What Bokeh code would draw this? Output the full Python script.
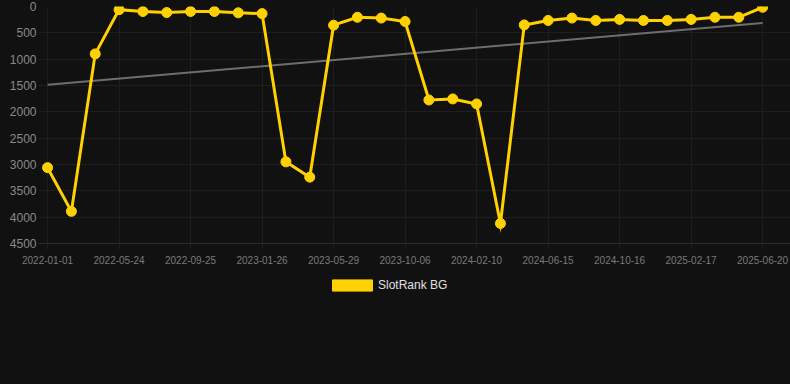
import numpy as np
from bokeh.plotting import figure
from bokeh.layouts import column
from bokeh.models import (Range1d, FixedTicker, Legend, LegendItem, ColumnDataSource)
from bokeh.embed import file_html
from bokeh.resources import INLINE

# ---- data ----
tick_labels = ["2022-01-01", "2022-05-24", "2022-09-25", "2023-01-26", "2023-05-29",
               "2023-10-06", "2024-02-10", "2024-06-15", "2024-10-16", "2025-02-17",
               "2025-06-20"]
rank_values = [3060, 3890, 900, 60, 95, 115, 95, 95, 120, 135,
               2950, 3240, 355, 205, 220, 285, 1775, 1755, 1850, 4120,
               350, 265, 220, 265, 245, 265, 265, 245, 205, 205, 15]
series_name = "SlotRank BG"
y_ticks = [0, 500, 1000, 1500, 2000, 2500, 3000, 3500, 4000, 4500]

BG = "#111111"
GRID = "#1e1e1e"
YELLOW = "#FFD100"

x_idx = list(range(len(rank_values)))
tick_pos = x_idx[::3]

slope, intercept = np.polyfit(x_idx, rank_values, 1)
trend_x = [x_idx[0], x_idx[-1]]
trend_y = [intercept + slope * t for t in trend_x]

p = figure(width=790, height=270, frame_width=752, frame_height=237,
           output_backend="svg", toolbar_location=None,
           x_range=Range1d(-0.38, 31.17), y_range=Range1d(4500, 0),
           background_fill_color=BG, border_fill_color=BG, outline_line_color=None,
           min_border_top=6, min_border_left=38, min_border_right=0, min_border_bottom=0)

# trend line
p.line(trend_x, trend_y, line_color="#6e6e6e", line_width=2)
# main series
src = ColumnDataSource(dict(x=x_idx, y=rank_values))
p.line("x", "y", source=src, line_color=YELLOW, line_width=3, line_join="miter")
p.scatter("x", "y", source=src, size=10, fill_color=YELLOW, line_color=YELLOW)

# axes
p.xaxis.ticker = FixedTicker(ticks=tick_pos)
p.xaxis.major_label_overrides = {tp: lab for tp, lab in zip(tick_pos, tick_labels)}
p.xaxis.major_label_text_font_size = "10px"
p.xaxis.major_label_text_font = "Liberation Sans"
p.xaxis.major_label_text_color = "#7a7a7a"
p.xaxis.axis_line_color = "#2e2e2e"
p.xaxis.major_tick_line_color = GRID
p.xaxis.major_tick_out = 6
p.xaxis.major_tick_in = 0
p.xaxis.minor_tick_line_color = None
p.xaxis.major_label_standoff = 6

p.yaxis.ticker = FixedTicker(ticks=y_ticks)
p.yaxis.major_label_text_font_size = "12px"
p.yaxis.major_label_text_font = "Liberation Sans"
p.yaxis.major_label_text_color = "#8a8a8a"
p.yaxis.axis_line_color = None
p.yaxis.major_tick_line_color = None
p.yaxis.minor_tick_line_color = None
p.yaxis.major_tick_out = 0
p.yaxis.major_tick_in = 0
p.yaxis.major_label_standoff = 2

p.xgrid.ticker = FixedTicker(ticks=tick_pos)
p.xgrid.grid_line_color = GRID
p.ygrid.grid_line_color = GRID

# ---- legend strip ----
lg = figure(width=790, height=114, output_backend="svg", toolbar_location=None,
            x_range=Range1d(0, 1), y_range=Range1d(0, 1),
            x_axis_location=None, y_axis_location=None,
            background_fill_color=BG, border_fill_color=BG, outline_line_color=None,
            min_border=0)
lg.xgrid.visible = False
lg.ygrid.visible = False
# hidden proxy renderer that only provides the legend swatch style
proxy = lg.quad(left=[0], right=[1], top=[1], bottom=[0],
                fill_color=YELLOW, line_color=YELLOW, visible=False)
legend = Legend(items=[LegendItem(label=series_name, renderers=[proxy])],
                orientation="horizontal", location=(289, 88),
                background_fill_alpha=0, border_line_color=None,
                inactive_fill_alpha=0,
                label_text_color="#e0e0e0", label_text_font_size="12px",
                label_text_font="Liberation Sans",
                glyph_width=50, glyph_height=14, label_standoff=1,
                padding=8, margin=0)
lg.add_layout(legend, "center")

layout = column(p, lg, spacing=0, styles={"background-color": BG})

html = file_html(layout, INLINE)
html = html.replace("</head>", "<style>html,body{background:#111111;}</style></head>", 1)
open("out.html", "w").write(html)
